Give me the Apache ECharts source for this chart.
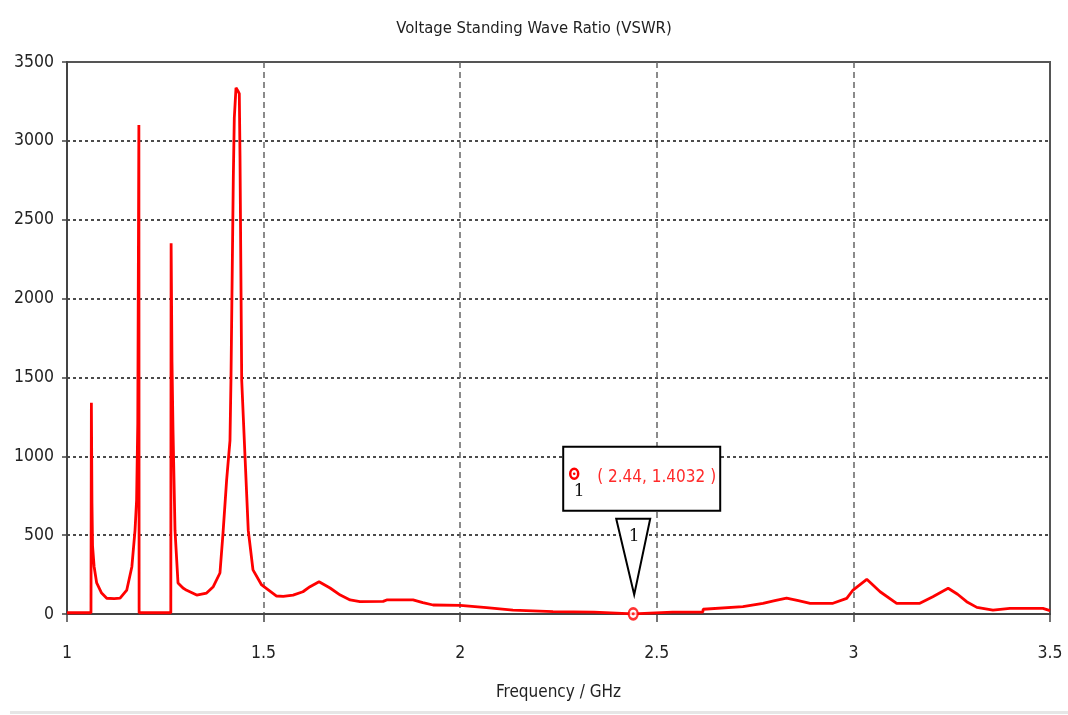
<!DOCTYPE html>
<html>
<head>
<meta charset="utf-8">
<title>Voltage Standing Wave Ratio (VSWR)</title>
<script src="https://cdn.jsdelivr.net/npm/echarts@6/dist/echarts.min.js"></script>
<style>
  html, body { margin: 0; padding: 0; background: #ffffff; }
  #chart { width: 1068px; height: 715px; }
</style>
</head>
<body>
<div id="chart"></div>
<script>
// Frequency sweep (GHz) and the VSWR computed at each point
const freqGHz = [
  1.000, 1.030, 1.061, 1.0620, 1.0635, 1.0650, 1.0690, 1.0755, 1.0880, 1.1010,
  1.1200, 1.1350, 1.1520, 1.1650, 1.1730, 1.1770, 1.1800, 1.1828, 1.1834, 1.2200,
  1.2640, 1.2648, 1.2670, 1.2696, 1.2747, 1.2823, 1.2950, 1.3044, 1.3298, 1.3550,
  1.3720, 1.3890, 1.3967, 1.4060, 1.4145, 1.4170, 1.4230, 1.4255, 1.4298, 1.4340,
  1.4382, 1.4400, 1.4443, 1.4527, 1.4610, 1.4730, 1.4950, 1.5000, 1.5330, 1.5500,
  1.5750, 1.6000, 1.6180, 1.6410, 1.6690, 1.6950, 1.7200, 1.7450, 1.8040, 1.8130,
  1.8800, 1.9050, 1.9310, 2.0000, 2.0670, 2.1340, 2.2360, 2.3400, 2.4400, 2.5400,
  2.6170, 2.6180, 2.7190, 2.7700, 2.8000, 2.8300, 2.8600, 2.8900, 2.9480, 2.9830,
  2.9990, 3.0340, 3.0680, 3.1100, 3.1690, 3.2020, 3.2410, 3.2650, 3.2880, 3.3140,
  3.3550, 3.3980, 3.4820, 3.5000
];
const vswr = [
  8, 8, 8, 1340, 700, 430, 300, 197, 133, 100,
  97, 100, 152, 300, 530, 720, 1210, 3100, 8, 8,
  8, 2350, 1600, 1167, 530, 197, 165, 150, 120, 133,
  173, 260, 510, 850, 1100, 1484, 2771, 3145, 3337, 3320,
  3300, 2900, 1484, 1000, 530, 280, 184, 172, 114, 112,
  120, 141, 173, 205, 165, 120, 89, 78, 80, 89,
  89, 72, 57, 55, 40, 25, 15, 12, 1.4032, 12,
  12, 30, 47, 68, 85, 100, 85, 68, 68, 99,
  152, 220, 141, 68, 68, 110, 163, 125, 78, 42,
  25, 36, 36, 21
];

// Marker 1
const markerFreq = 2.44;
const markerVswr = 1.4032;
const markerName = '1';

// Axis ranges and tick steps
const xRange = [1, 3.5];
const xStep = 0.5;
const yRange = [0, 3500];
const yStep = 500;

const titleText = 'Voltage Standing Wave Ratio (VSWR)';
const xAxisTitle = 'Frequency / GHz';

const FONT = "'DejaVu Sans Condensed', 'Liberation Sans Narrow', 'Liberation Sans', Arial, sans-serif";
const SERIF = "'DejaVu Serif', 'Liberation Serif', serif";
const RED = '#ff0000';

const chart = echarts.init(document.getElementById('chart'), null, { renderer: 'canvas' });

const curve = freqGHz.map((f, i) => [f, vswr[i]]);

chart.setOption({
  animation: false,
  backgroundColor: '#ffffff',
  title: {
    text: titleText,
    left: 'center',
    top: 15,
    textStyle: { fontFamily: FONT, fontSize: 16.5, fontWeight: 'normal', color: '#222' }
  },
  grid: {
    left: 67, right: 18, top: 62, bottom: 101,
    show: true, borderColor: '#555', borderWidth: 2, backgroundColor: 'transparent'
  },
  xAxis: {
    type: 'value',
    min: xRange[0], max: xRange[1], interval: xStep,
    name: xAxisTitle,
    nameLocation: 'middle',
    nameGap: 70,
    nameTextStyle: { fontFamily: FONT, fontSize: 17, color: '#222' },
    axisLine: { show: true, onZero: false, lineStyle: { color: '#444', width: 2 } },
    axisTick: { show: true, length: 8, lineStyle: { color: '#444', width: 1.5 } },
    axisLabel: { fontFamily: FONT, fontSize: 17.5, color: '#222', margin: 30 },
    splitLine: {
      show: true, showMinLine: false, showMaxLine: false,
      lineStyle: { color: '#666', width: 1.5, type: [6, 4] }
    }
  },
  yAxis: {
    type: 'value',
    min: yRange[0], max: yRange[1], interval: yStep,
    axisLine: { show: true, lineStyle: { color: '#444', width: 2 } },
    axisTick: { show: true, length: 5, lineStyle: { color: '#444', width: 1.5 } },
    axisLabel: {
      fontFamily: FONT, fontSize: 17.5, color: '#222', margin: 13,
      formatter: (v) => String(v)
    },
    splitLine: {
      show: true, showMinLine: false, showMaxLine: false,
      lineStyle: { color: '#111', width: 1.5, type: [3, 3] }
    }
  },
  series: [
    {
      name: 'VSWR',
      type: 'line',
      data: curve,
      showSymbol: false,
      smooth: false,
      clip: true,
      lineStyle: { color: RED, width: 2.8 },
      z: 3
    },
    {
      name: 'marker ring',
      type: 'scatter',
      data: [[markerFreq, markerVswr]],
      symbol: 'circle',
      symbolSize: [9, 11],
      itemStyle: { color: '#ffffff', borderColor: RED, borderWidth: 2.5 },
      z: 5
    },
    {
      name: 'marker dot',
      type: 'scatter',
      data: [[markerFreq, markerVswr]],
      symbol: 'circle',
      symbolSize: 3,
      itemStyle: { color: RED },
      z: 6
    }
  ]
});

// Marker callout: a pointer triangle above the marker and a readout box
const p = chart.convertToPixel({ xAxisIndex: 0, yAxisIndex: 0 }, [markerFreq, markerVswr]);
const px = p[0], py = p[1];

chart.setOption({
  graphic: [
    {
      type: 'polygon',
      z: 50,
      shape: { points: [[px - 17, py - 95], [px + 17, py - 95], [px + 1, py - 19]] },
      style: { fill: '#ffffff', stroke: '#000', lineWidth: 2 }
    },
    {
      type: 'text',
      z: 51,
      x: px + 1, y: py - 77,
      style: {
        text: markerName, fontFamily: SERIF, fontSize: 17, fill: '#111',
        align: 'center', verticalAlign: 'middle'
      }
    },
    {
      type: 'rect',
      z: 50,
      shape: { x: px - 70, y: py - 167, width: 157, height: 64 },
      style: { fill: '#ffffff', stroke: '#000', lineWidth: 2 }
    },
    {
      type: 'ellipse',
      z: 51,
      shape: { cx: px - 59, cy: py - 140, rx: 4, ry: 5 },
      style: { fill: '#ffffff', stroke: RED, lineWidth: 2.5 }
    },
    {
      type: 'circle',
      z: 52,
      shape: { cx: px - 59, cy: py - 140, r: 1.3 },
      style: { fill: RED }
    },
    {
      type: 'text',
      z: 51,
      x: px - 54, y: py - 122,
      style: {
        text: markerName, fontFamily: SERIF, fontSize: 17, fill: '#111',
        align: 'center', verticalAlign: 'middle'
      }
    },
    {
      type: 'text',
      z: 51,
      x: px - 36, y: py - 136,
      style: {
        text: '( ' + markerFreq + ', ' + markerVswr + ' )',
        fontFamily: FONT, fontSize: 17, fill: '#ff2a2a',
        align: 'left', verticalAlign: 'middle'
      }
    },
    {
      type: 'rect',
      z: 1,
      shape: { x: 10, y: 711, width: 1058, height: 3 },
      style: { fill: '#e6e6e6' }
    }
  ]
});
</script>
</body>
</html>
